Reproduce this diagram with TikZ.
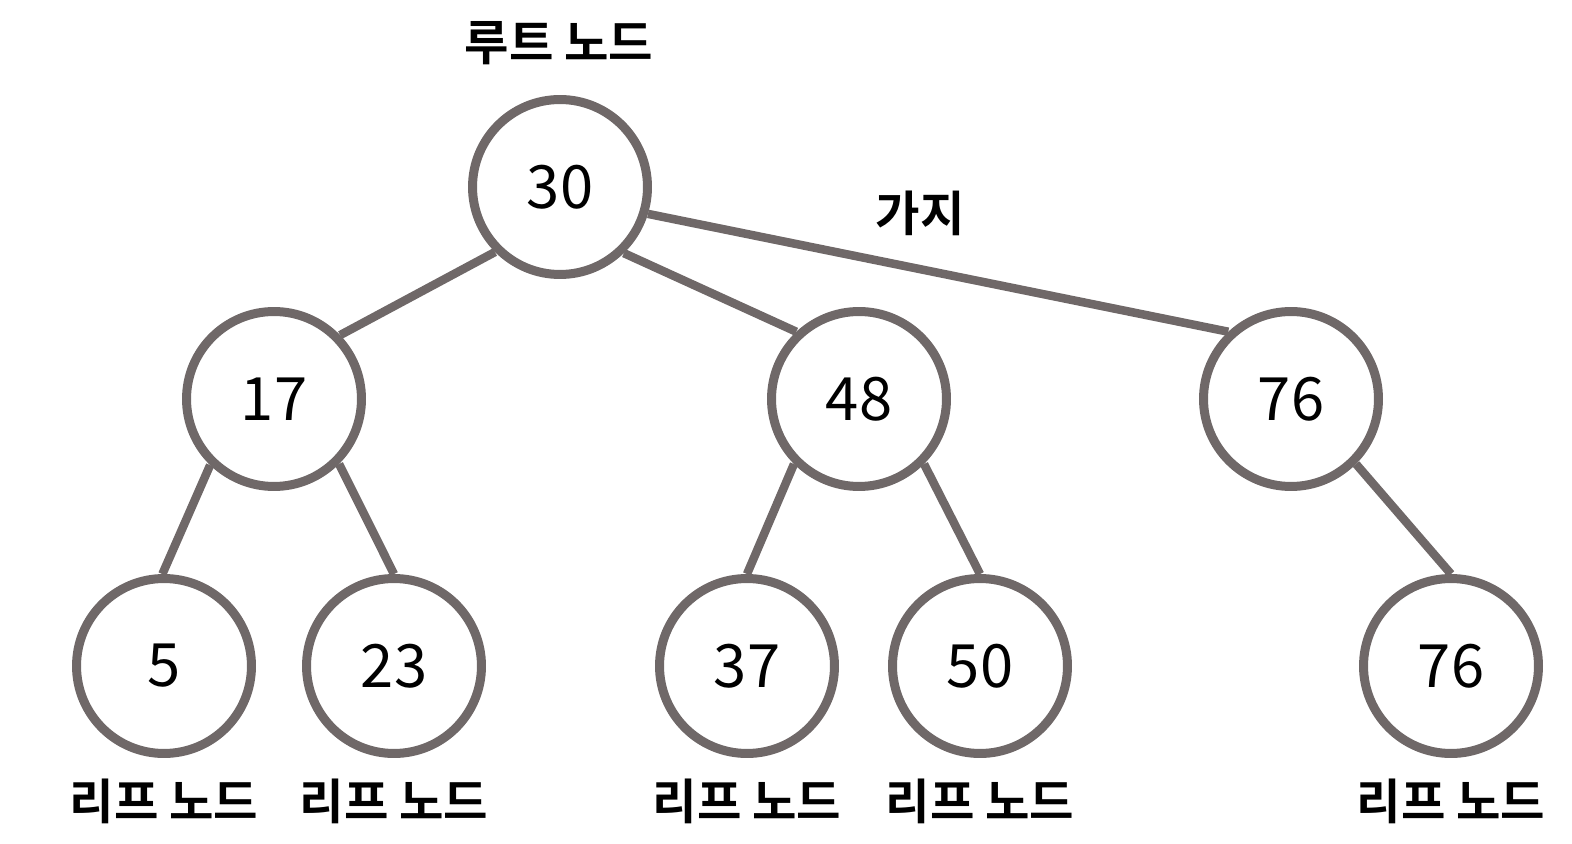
\documentclass[tikz,border=0pt]{standalone}
\usepackage{fontspec}
\setmainfont{Noto Sans CJK KR}[BoldFont={Noto Sans CJK KR Bold}]
\definecolor{edgegray}{RGB}{111,104,104}

\begin{document}
\begin{tikzpicture}[
    x=0.02cm, y=-0.02cm,
    inner sep=0pt,
    vertex/.style={circle, draw=edgegray, fill=white, line width=0.18cm,
      minimum size=3.5cm, font=\fontsize{34}{40}\selectfont},
    tag/.style={font=\bfseries\fontsize{27.5}{32}\selectfont},
    branch/.style={draw=edgegray, line width=0.17cm}
  ]
  \useasboundingbox (0,0) rectangle (1572,844);
  % nodes
  \node (root) [vertex] at (560,187) {30};
  \node (0) [vertex] at (274,399) {17};
  \node (1) [vertex] at (859,399) {48};
  \node (2) [vertex] at (1291,399) {76};
  \node (00) [vertex] at (164,666) {5};
  \node (01) [vertex] at (394,666) {23};
  \node (10) [vertex] at (747,666) {37};
  \node (11) [vertex] at (980,666) {50};
  \node (20) [vertex] at (1451,666) {76};
  % edges
  \draw [branch] (root.225) -- (0.44);
  \draw [branch] (root.-46) -- (1.133);
  \draw [branch] (root.-17) -- (2.133);
  \draw [branch] (0.-134) -- (00.91);
  \draw [branch] (0.-45) -- (01.north);
  \draw [branch] (1.-135) -- (10.north);
  \draw [branch] (1.-45) -- (11.north);
  \draw [branch] (2.-45) -- (20.north);
  % labels
  \node (root-tag) [tag] at (559,43) {루트 노드};
  \node (branch-tag) [tag] at (920,213) {가지};
  \node (00-tag) [tag] at (164,801) {리프 노드};
  \node (01-tag) [tag] at (394,801) {리프 노드};
  \node (10-tag) [tag] at (747,801) {리프 노드};
  \node (11-tag) [tag] at (980,801) {리프 노드};
  \node (20-tag) [tag] at (1451,801) {리프 노드};
\end{tikzpicture}
\end{document}
